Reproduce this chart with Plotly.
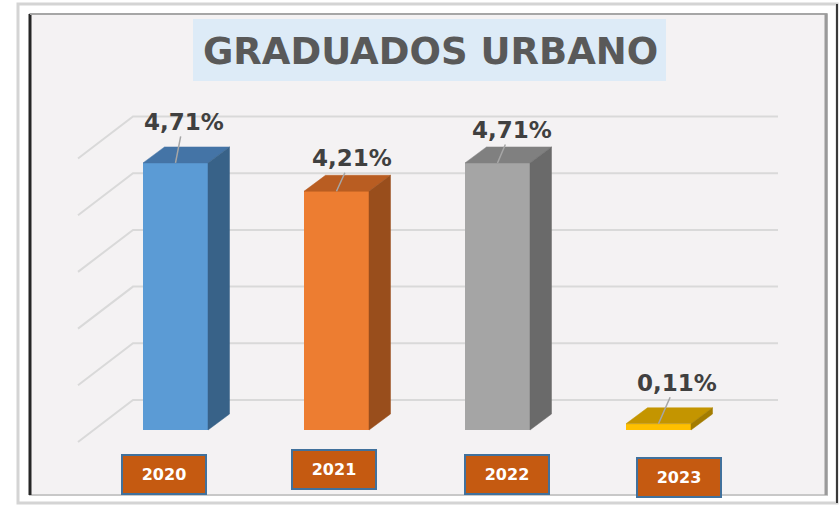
import plotly.graph_objects as go

# ---- data ----
years = ["2020", "2021", "2022", "2023"]
values = [4.71, 4.21, 4.71, 0.11]
grid_values = [0, 1, 2, 3, 4, 5]
title_text = "GRADUADOS URBANO"

# ---- style ----
front_colors = ["#5B9BD5", "#ED7D31", "#A5A5A5", "#FFC000"]
top_colors = ["#4474A6", "#B95D22", "#808080", "#C49500"]
side_colors = ["#386288", "#994E1C", "#6A6A6A", "#A37C00"]
label_offsets = [(8, -41), (15, -33), (14, -33), (18, -41)]
year_box_shift = [(-12, 474), (-3, 469), (9, 474), (20, 477)]
FONT = "DejaVu Sans"

W, H = 839, 505
PX_X = 161.0      # pixels per category unit
PX_Y = 56.7       # pixels per value unit
X0_PX = 175.5     # pixel of category 0
Y0_PX = 430.0     # pixel of value 0 (front)
xr = [-X0_PX / PX_X, (W - X0_PX) / PX_X]
yr = [-(H - Y0_PX) / PX_Y, Y0_PX / PX_Y]

bar_w = 65 / PX_X
bdx, bdy = 21.5 / PX_X, 16 / PX_Y          # bar depth
wall_dy = 30 / PX_Y                         # back wall offset from bar front
side_dx, side_dy = -55 / PX_X, -42 / PX_Y   # side-wall diagonal (back -> front)
wall_left = (133 - X0_PX) / PX_X
wall_right = (778 - X0_PX) / PX_X

fig = go.Figure()

shapes = [
    # outer frame
    dict(type="rect", xref="paper", yref="paper", x0=18 / W, x1=837 / W,
         y0=1 - 503 / H, y1=1 - 4 / H, line=dict(color="#D4D4D4", width=3),
         fillcolor="#FFFFFF", layer="below"),
    dict(type="line", xref="paper", yref="paper", x0=837 / W, x1=837 / W,
         y0=1 - 503 / H, y1=1 - 4 / H, line=dict(color="#3A3A3A", width=2),
         layer="below"),
    # inner panel
    dict(type="rect", xref="paper", yref="paper", x0=30 / W, x1=827 / W,
         y0=1 - 495 / H, y1=1 - 14 / H, line=dict(color="#C8C8C8", width=2),
         fillcolor="#F4F2F3", layer="below"),
    dict(type="line", xref="paper", yref="paper", x0=30 / W, x1=30 / W,
         y0=1 - 495 / H, y1=1 - 14 / H, line=dict(color="#262626", width=3),
         layer="below"),
    dict(type="line", xref="paper", yref="paper", x0=30 / W, x1=827 / W,
         y0=1 - 14 / H, y1=1 - 14 / H, line=dict(color="#A6A6A6", width=2),
         layer="below"),
    dict(type="line", xref="paper", yref="paper", x0=826 / W, x1=826 / W,
         y0=1 - 495 / H, y1=1 - 14 / H, line=dict(color="#9A9A9A", width=3),
         layer="below"),
    # title box
    dict(type="rect", xref="paper", yref="paper", x0=193 / W, x1=666 / W,
         y0=1 - 81 / H, y1=1 - 19 / H, line=dict(width=0),
         fillcolor="#DDEBF7", layer="below"),
]

# back-wall gridlines and side-wall diagonals (data coordinates, below bars)
for g in grid_values:
    yb = g + wall_dy
    shapes.append(dict(
        type="path", xref="x", yref="y", layer="below",
        path=f"M {wall_left + side_dx},{yb + side_dy} L {wall_left},{yb} L {wall_right},{yb}",
        line=dict(color="#D9D9D9", width=2)))

# front faces
xs = list(range(len(years)))
fig.add_trace(go.Bar(
    x=xs, y=values, width=bar_w, base=0,
    marker=dict(color=front_colors, line=dict(width=0)),
    hoverinfo="skip", showlegend=False))

# top and side faces
for i, v in enumerate(values):
    xl, xrr = i - bar_w / 2, i + bar_w / 2
    fig.add_trace(go.Scatter(
        x=[xl, xrr, xrr + bdx, xl + bdx, xl],
        y=[v, v, v + bdy, v + bdy, v],
        fill="toself", fillcolor=top_colors[i], mode="lines",
        line=dict(color=top_colors[i], width=0.5),
        hoverinfo="skip", showlegend=False))
    fig.add_trace(go.Scatter(
        x=[xrr, xrr + bdx, xrr + bdx, xrr, xrr],
        y=[0, bdy, v + bdy, v, 0],
        fill="toself", fillcolor=side_colors[i], mode="lines",
        line=dict(color=side_colors[i], width=0.5),
        hoverinfo="skip", showlegend=False))

annotations = [dict(
    xref="paper", yref="paper", x=430 / W, y=1 - 52 / H,
    xanchor="center", yanchor="middle",
    text=f"<b>{title_text}</b>", showarrow=False,
    font=dict(family=FONT, size=37, color="#595959"))]

for i, v in enumerate(values):
    dx, dy = label_offsets[i]
    annotations.append(dict(
        x=i, y=v, xref="x", yref="y", ax=dx, ay=dy,
        text="<b>" + f"{v:.2f}".replace(".", ",") + "%</b>",
        showarrow=True, arrowhead=0, arrowwidth=1.5, arrowcolor="#A6A6A6",
        font=dict(family=FONT, size=23, color="#404040")))
    sx, py = year_box_shift[i]
    annotations.append(dict(
        x=i, xref="x", y=1 - py / H, yref="paper", xshift=sx,
        xanchor="center", yanchor="middle",
        text=f"<b>{years[i]}</b>", showarrow=False,
        bgcolor="#C55A11", bordercolor="#41719C", borderwidth=2, borderpad=0,
        width=82, height=37,
        font=dict(family=FONT, size=16, color="#FFFFFF")))

fig.update_layout(
    width=W, height=H, autosize=False,
    margin=dict(l=0, r=0, t=0, b=0),
    paper_bgcolor="#FFFFFF", plot_bgcolor="rgba(0,0,0,0)",
    xaxis=dict(range=xr, visible=False, fixedrange=True),
    yaxis=dict(range=yr, visible=False, fixedrange=True),
    shapes=shapes, annotations=annotations, bargap=0)

fig.write_html("out.html", config={"displayModeBar": False},
               post_script="document.body.style.margin='0';")
